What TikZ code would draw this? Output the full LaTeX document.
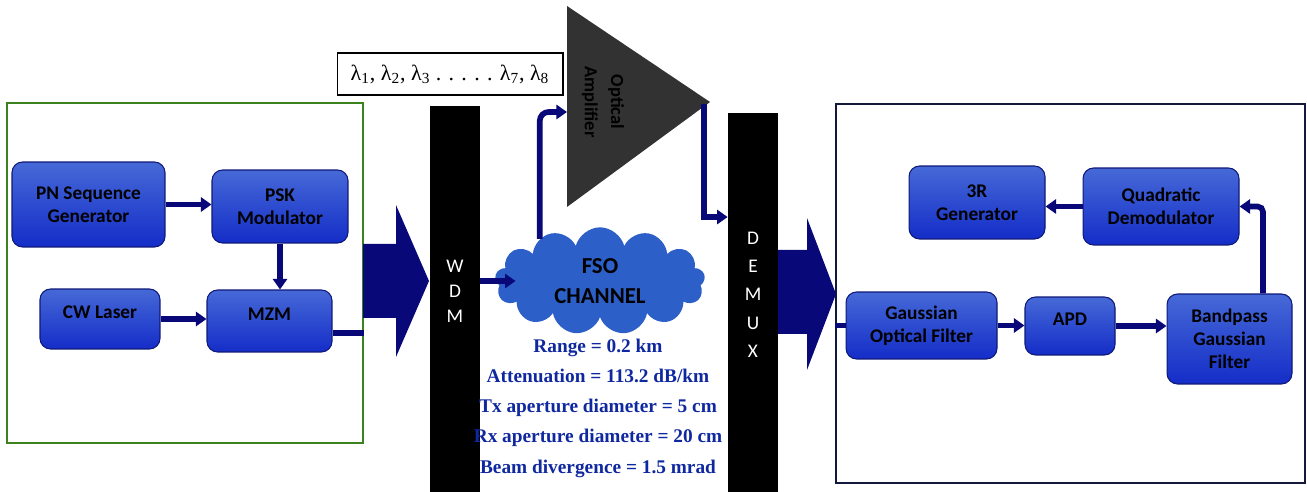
\documentclass[tikz,border=0pt]{standalone}
\usepackage{fontspec}
\setmainfont{Liberation Serif}
\setsansfont{Carlito}
\usetikzlibrary{arrows.meta,shapes.symbols}
\definecolor{navy}{RGB}{8,8,120}
\definecolor{blocktop}{RGB}{70,105,215}
\definecolor{blockbot}{RGB}{20,45,200}
\definecolor{blockline}{RGB}{15,25,120}
\definecolor{txgreen}{RGB}{60,130,30}
\definecolor{rxline}{RGB}{20,25,60}
\definecolor{cloudblue}{RGB}{45,95,200}
\definecolor{paramblue}{RGB}{15,40,160}
\definecolor{ampgray}{RGB}{50,50,50}

\begin{document}
\begin{tikzpicture}[
            x = 0.02cm, y = -0.02cm, % pixel grid of the figure
            > = {Triangle[width=8pt,length=6pt]}, % arrow head style
            conn/.style = {->, draw=navy, line width=3.2pt}, % thick connector
            link/.style = {draw=navy, line width=3.2pt}, % connector without head
            block/.style = {draw=blockline, semithick, rounded corners=6pt,
                top color=blocktop, bottom color=blockbot, align=center,
                font=\sffamily\bfseries\fontsize{11}{13}\selectfont},
            bar/.style = {fill=black, text=white, align=center, inner sep=0pt,
                minimum width=1cm, text depth=10pt,
                font=\sffamily\fontsize{11}{14}\selectfont},
            param/.style = {text=paramblue, align=center,
                font=\bfseries\fontsize{11}{17.2}\selectfont}
        ]
\useasboundingbox (0,0) rectangle (1307,492);

% transmitter and receiver frames
\node[draw=txgreen, thick, minimum width=7.12cm, minimum height=6.8cm] (tx) at (185,273) {};
\node[draw=rxline, thick, minimum width=9.38cm, minimum height=7.58cm] (rx) at (1070.5,293.5) {};

% big arrows
\fill[navy] (363,244) -- (396,244) -- (396,205) -- (429,281) -- (396,357) -- (396,318) -- (363,318) -- cycle;
\fill[navy] (778,250) -- (807,250) -- (807,218) -- (836,294) -- (807,370) -- (807,334) -- (778,334) -- cycle;

% transmitter
\node[block, minimum width=3.06cm, minimum height=1.70cm] (pn) at (88.5,204.5) {PN Sequence\\Generator};
\node[block, minimum width=2.72cm, minimum height=1.46cm] (psk) at (280,206.5) {PSK\\Modulator};
\node[block, minimum width=2.40cm, minimum height=1.20cm, text height=0pt] (cw) at (100,319) {CW Laser};
\node[block, minimum width=2.50cm, minimum height=1.24cm, text height=0pt] (mzm) at (269.5,321) {MZM};

% multiplexers
\node[bar, minimum height=7.76cm] (wdm) at (455,300) {W\\D\\M};
\node[bar, minimum height=7.62cm, font=\sffamily\fontsize{11}{16}\selectfont] (dmx) at (753,303.5) {D\\E\\M\\U\\X};
\node[draw=black, semithick, minimum width=4.52cm, minimum height=0.84cm,
      font=\fontsize{12.5}{15}\selectfont] (lam) at (450,74)
      {λ\textsubscript{1}, λ\textsubscript{2}, λ\textsubscript{3} . . . . . λ\textsubscript{7}, λ\textsubscript{8}};

% optical amplifier
\fill[ampgray] (567,6) -- (710,102) -- (567,207) -- cycle;
\coordinate (ampin) at (567,112);
\coordinate (amptip) at (704,104);
\node[rotate=-90, align=center, font=\sffamily\bfseries\fontsize{10.5}{15}\selectfont] (amptxt) at (603,102) {Optical\\Amplifier};

% channel
\node[cloud, cloud puffs=13, aspect=2, fill=cloudblue, minimum width=4.2cm, minimum height=2.06cm,
      align=center, font=\sffamily\bfseries\fontsize{13}{17}\selectfont] (fso) at (600,281) {FSO\\CHANNEL};
\node[param] (par) at (598,408) {Range = 0.2 km\\Attenuation = 113.2 dB/km\\Tx aperture diameter = 5 cm\\Rx aperture diameter = 20 cm\\Beam divergence = 1.5 mrad};

% receiver
\node[block, minimum width=2.72cm, minimum height=1.46cm] (gen) at (977,202.5) {3R\\Generator};
\node[block, minimum width=3.12cm, minimum height=1.54cm] (qd) at (1161,206.5) {Quadratic\\Demodulator};
\node[block, minimum width=3.02cm, minimum height=1.34cm] (gof) at (921.5,325.5) {Gaussian\\Optical Filter};
\node[block, minimum width=1.80cm, minimum height=1.16cm, text height=0pt] (apd) at (1070,326) {APD};
\node[block, minimum width=2.50cm, minimum height=1.80cm] (bgf) at (1229.5,339) {Bandpass\\Gaussian\\Filter};

% connections
\draw [conn] (pn.east) -- (pn.east -| psk.west);
\draw [conn] (psk.south) -- (psk.south |- mzm.north);
\draw [conn] (cw.east) -- (cw.east -| mzm.west);
\draw [link] ([yshift=-0.24cm]mzm.east) -- ([yshift=-0.24cm]mzm.east -| tx.east);
\draw [conn] (wdm.east |- fso.west) -- ([xshift=0.4cm]fso.west);
\draw [conn, rounded corners=5pt] (fso.145) |- (ampin);
\draw [conn] (amptip) |- ([yshift=1.73cm]dmx.west);
\draw [link] (rx.west |- gof.west) -- (gof.west);
\draw [conn] (gof.east) -- (gof.east -| apd.west);
\draw [conn] (apd.east) -- (apd.east -| bgf.west);
\draw [conn, rounded corners=3pt] ([xshift=0.67cm]bgf.north) |- (qd.east);
\draw [conn] (qd.west) -- (qd.west -| gen.east);
\end{tikzpicture}
\end{document}
